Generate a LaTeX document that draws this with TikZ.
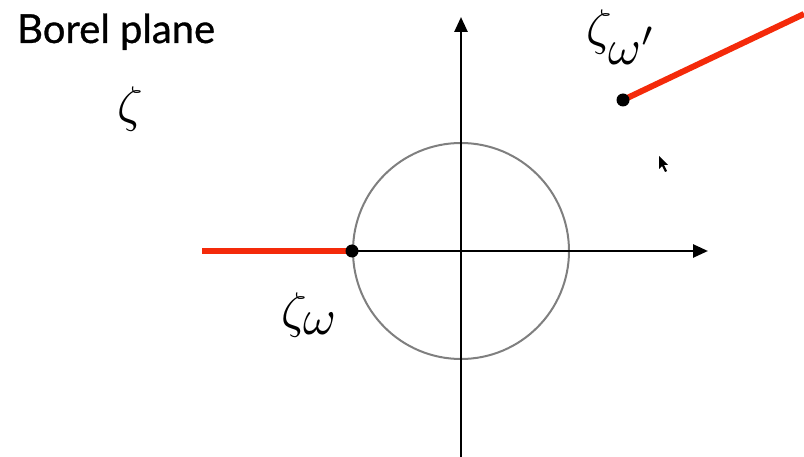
\documentclass[tikz,border=0pt]{standalone}
\usepackage{graphicx}
\usepackage{fontspec}
\setsansfont{Lato}
\usepackage{tikz}
\usetikzlibrary{arrows.meta}
\definecolor{cutred}{HTML}{F42A0A}
\definecolor{circlegray}{HTML}{7F7F7F}
\newcommand{\bigsym}[1]{\scalebox{5}{$#1$}}

\begin{document}
\begin{tikzpicture}[x=1pt,y=-1pt,
    axis/.style={line width=2.6pt, -{Triangle[length=15pt,width=13pt]}},
    cut/.style={cutred, line width=6pt},
    label/.style={inner sep=0pt}]
    \useasboundingbox (0,0) rectangle (804,457);

    \coordinate (O) at (461,251);
    \coordinate (YB) at (461,457);
    \coordinate (YT) at (461,17);
    \coordinate (XR) at (708,251);
    \coordinate (ZW) at (352,251);
    \coordinate (RL) at (202,251);
    \coordinate (ZWP) at (623,100);
    \coordinate (RR) at (804,14);

    \draw[circlegray, line width=2pt] (O) circle (108);
    \draw[axis] (YB) -- (YT);
    \draw[axis] (ZW) -- (XR);

    \draw[cut] (RL) -- (ZW);
    \draw[cut] (ZWP) -- (RR);
    \fill (ZW) circle (6.5);
    \fill (ZWP) circle (6.5);

    \node[anchor=base west, font=\sffamily\fontsize{40}{44}\selectfont\addfontfeature{FakeBold=0.8}, inner sep=0pt]
        (title) at (17,43) {Borel plane};
    \node[label] (zeta) at (130,109) {\bigsym{\zeta}};
    \node[label] (zetaw) at (310,315) {\bigsym{\zeta_{\textstyle\omega}}};
    \node[label] (zetawp) at (622,37) {\bigsym{\zeta_{\textstyle\omega'}}};

    % pointer
    \fill (659,156) -- (659,169) -- (662,166) -- (665,172) -- (667,171) -- (664,165) -- (668,165) -- cycle;
\end{tikzpicture}
\end{document}
